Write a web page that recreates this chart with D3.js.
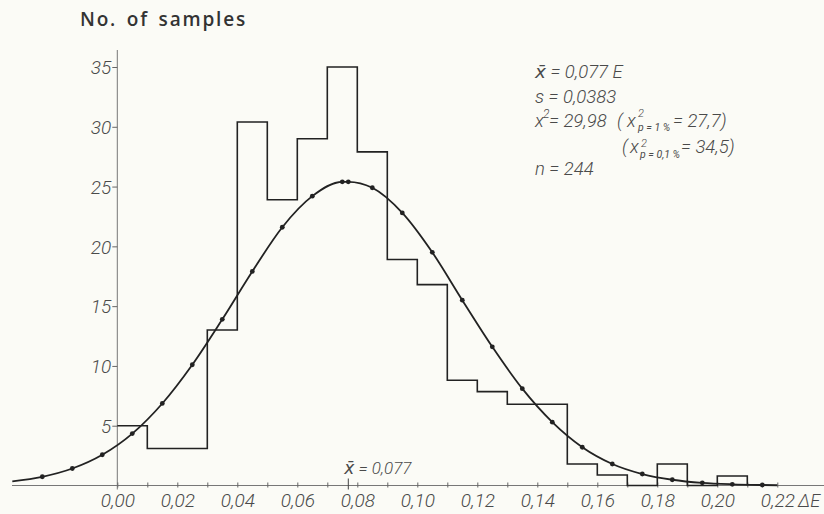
<!DOCTYPE html>
<html>
<head>
<meta charset="utf-8">
<script src="https://cdn.jsdelivr.net/npm/d3@7"></script>
<style>
  body { margin: 0; background: #fbfbf6; }
  svg { display: block; }
  .lbl { font-family: Roboto, "DejaVu Sans", sans-serif; font-style: italic; font-weight: 300; fill: #4a4a4a; }
</style>
</head>
<body>
<script>
// histogram: left edge of each 0.01 bin and its height
var binStart = [0.00, 0.01, 0.02, 0.03, 0.04, 0.05, 0.06, 0.07, 0.08, 0.09, 0.10,
                0.11, 0.12, 0.13, 0.14, 0.15, 0.16, 0.17, 0.18, 0.19, 0.20];
var binCount = [5, 3.1, 3.1, 13, 30.4, 23.9, 29, 35, 27.9, 18.9, 16.8,
                8.8, 7.85, 6.8, 6.8, 1.8, 0.88, 0, 1.8, 0, 0.8];
var binWidth = 0.01;

// fitted curve, points (dots on all but the two ends)
var curveX = [-0.035, -0.025, -0.015, -0.005, 0.005, 0.015, 0.025, 0.035, 0.045, 0.055,
              0.065, 0.075, 0.077, 0.085, 0.095, 0.105, 0.115, 0.125, 0.135, 0.145,
              0.155, 0.165, 0.175, 0.185, 0.195, 0.205, 0.215, 0.22];
var curveY = [0.35, 0.73, 1.42, 2.57, 4.34, 6.86, 10.1, 13.9, 17.9, 21.6,
              24.2, 25.4, 25.4, 24.9, 22.8, 19.5, 15.5, 11.6, 8.1, 5.3,
              3.2, 1.8, 0.96, 0.48, 0.22, 0.1, 0.04, 0.02];

var yTicks = [5, 10, 15, 20, 25, 30, 35];
var xTicks = d3.range(0, 23).map(function (i) { return i / 100; });
var xLabelTicks = [0.00, 0.02, 0.04, 0.06, 0.08, 0.10, 0.12, 0.14, 0.16, 0.18, 0.20, 0.22];
var meanX = 0.077;

var width = 824, height = 514;
var ink = "#222";

var svg = d3.select("body").append("svg")
    .attr("width", width)
    .attr("height", height);

svg.append("rect").attr("width", width).attr("height", height).attr("fill", "#fbfbf6");

var x = d3.scaleLinear().domain([0, 0.22]).range([117.3, 777.3]);
var y = d3.scaleLinear().domain([0, 35]).range([485.5, 67]);

var comma = d3.formatLocale({ decimal: ",", thousands: ".", grouping: [3], currency: ["", ""] });
var fmt = comma.format(".2f");

// axis lines
svg.append("line")
    .attr("x1", 12).attr("x2", width)
    .attr("y1", y(0)).attr("y2", y(0))
    .attr("stroke", "#777").attr("stroke-width", 1);
svg.append("line")
    .attr("x1", x(0)).attr("x2", x(0))
    .attr("y1", y(0) + 4).attr("y2", 50)
    .attr("stroke", "#777").attr("stroke-width", 1);

// y axis
var yAxis = svg.append("g")
    .attr("transform", "translate(" + x(0) + ",0)")
    .call(d3.axisLeft(y).tickValues(yTicks).tickSize(5).tickPadding(1));
yAxis.select(".domain").remove();
yAxis.selectAll("line").attr("stroke", "#666");
yAxis.selectAll("text")
    .attr("class", "lbl")
    .style("font-size", "19px")
    .attr("fill", null)
    .attr("dy", "0.36em");
yAxis.attr("font-family", null).attr("font-size", null);

// x axis
var xAxis = svg.append("g")
    .attr("transform", "translate(0," + y(0) + ")")
    .call(d3.axisBottom(x).tickValues(xTicks).tickSize(-3)
        .tickFormat(function (d) {
            return xLabelTicks.some(function (v) { return Math.abs(v - d) < 1e-9; }) ? fmt(d) : "";
        }));
xAxis.select(".domain").remove();
xAxis.selectAll("line").attr("stroke", "#666").attr("y2", -3).attr("y1", 2);
xAxis.selectAll("text")
    .attr("class", "lbl")
    .style("font-size", "19px")
    .attr("fill", null)
    .attr("y", 8)
    .attr("dy", "0.71em");
xAxis.attr("font-family", null).attr("font-size", null);

svg.append("text").attr("class", "lbl")
    .attr("x", 798).attr("y", 507)
    .style("font-size", "18px")
    .text("\u0394E");

// mean marker on the axis
svg.append("line")
    .attr("x1", x(meanX)).attr("x2", x(meanX))
    .attr("y1", y(0) - 7).attr("y2", y(0) + 4)
    .attr("stroke", "#444").attr("stroke-width", 1);
svg.append("text").attr("class", "lbl")
    .attr("x", x(meanX) - 4).attr("y", 474)
    .style("font-size", "17px")
    .text("x\u0304 = 0,077");

// histogram
var histPts = binStart.map(function (d, i) { return [d, binCount[i]]; });
histPts.push([binStart[binStart.length - 1] + binWidth, 0]);
svg.append("path")
    .datum(histPts)
    .attr("fill", "none")
    .attr("stroke", ink)
    .attr("stroke-width", 1.6)
    .attr("d", d3.line()
        .x(function (d) { return x(d[0]); })
        .y(function (d) { return y(d[1]); })
        .curve(d3.curveStepAfter));

// fitted curve
var curvePts = curveX.map(function (d, i) { return [d, curveY[i]]; });
svg.append("path")
    .datum(curvePts)
    .attr("fill", "none")
    .attr("stroke", ink)
    .attr("stroke-width", 1.8)
    .attr("d", d3.line()
        .x(function (d) { return x(d[0]); })
        .y(function (d) { return y(d[1]); })
        .curve(d3.curveMonotoneX));

svg.selectAll("circle.dot")
    .data(curvePts.slice(1, -1))
    .enter()
    .append("circle")
    .attr("class", "dot")
    .attr("cx", function (d) { return x(d[0]); })
    .attr("cy", function (d) { return y(d[1]); })
    .attr("r", 2.4)
    .attr("fill", ink);

// title
svg.append("text")
    .attr("x", 80).attr("y", 26)
    .style("font-family", "\"Open Sans\", \"DejaVu Sans\", sans-serif")
    .style("font-size", "19px")
    .style("font-weight", "600")
    .style("letter-spacing", "1.8px")
    .style("word-spacing", "3px")
    .attr("fill", "#333")
    .text("No. of samples");

// statistics block
var stats = svg.append("g").attr("class", "lbl").style("font-size", "18.5px");
stats.append("text").attr("x", 535).attr("y", 78).text("x\u0304 = 0,077 E");
stats.append("text").attr("x", 535).attr("y", 103).text("s = 0,0383");

var l3 = stats.append("text").attr("y", 127);
l3.append("tspan").attr("x", 535).text("x");
l3.append("tspan").attr("x", 543).attr("y", 118).style("font-size", "12px").text("2");
l3.append("tspan").attr("x", 549).attr("y", 127).text("= 29,98");
l3.append("tspan").attr("x", 617).text("(");
l3.append("tspan").attr("x", 627).text("x");
l3.append("tspan").attr("x", 638).attr("y", 117).style("font-size", "11px").text("2");
l3.append("tspan").attr("x", 638).attr("y", 130.5).style("font-size", "10.5px").style("font-weight", "400").text("p = 1 %");
l3.append("tspan").attr("x", 673).attr("y", 127).text("= 27,7)");

var l4 = stats.append("text").attr("y", 153);
l4.append("tspan").attr("x", 622).text("(");
l4.append("tspan").attr("x", 630).text("x");
l4.append("tspan").attr("x", 641).attr("y", 146.5).style("font-size", "11px").text("2");
l4.append("tspan").attr("x", 640).attr("y", 158).style("font-size", "10.5px").style("font-weight", "400").text("p = 0,1 %");
l4.append("tspan").attr("x", 681).attr("y", 153).text("= 34,5)");

stats.append("text").attr("x", 535).attr("y", 175).text("n = 244");
</script>
</body>
</html>
